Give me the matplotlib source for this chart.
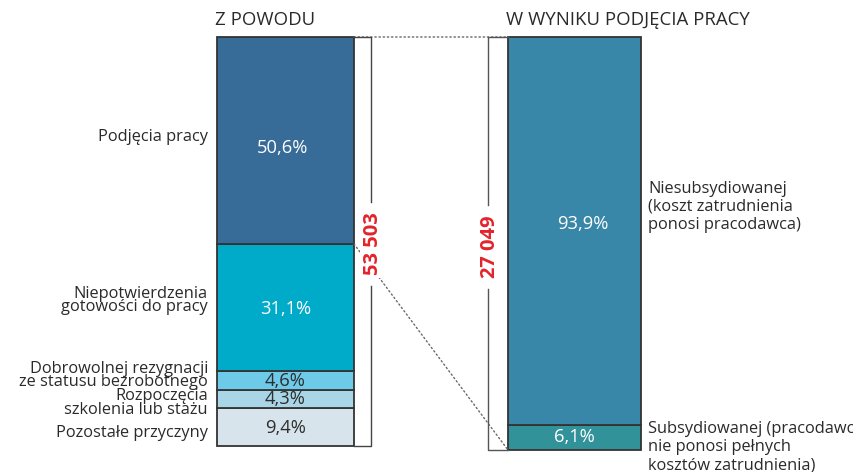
import matplotlib
matplotlib.use("Agg")
import matplotlib.pyplot as plt
from matplotlib.patches import ConnectionPatch
import numpy as np

plt.rcParams['font.family'] = ['Open Sans', 'DejaVu Sans']

# ---------------- data ----------------
left_title = "Z POWODU"
right_title = "W WYNIKU PODJĘCIA PRACY"

left_categories = ["Pozostałe przyczyny",
                   "Rozpoczęcia\nszkolenia lub stażu",
                   "Dobrowolnej rezygnacji\nze statusu bezrobotnego",
                   "Niepotwierdzenia\ngotowości do pracy",
                   "Podjęcia pracy"]
left_values = [9.4, 4.3, 4.6, 31.1, 50.6]
left_total = "53 503"

right_categories = ["Subsydiowanej (pracodawca\nnie ponosi pełnych\nkosztów zatrudnienia)",
                    "Niesubsydiowanej\n(koszt zatrudnienia\nponosi pracodawca)"]
right_values = [6.1, 93.9]
right_total = "27 049"

# ---------------- style ----------------
left_colors = ['#d7e4eb', '#a9d6e6', '#6dcae8', '#00abca', '#376b98']
left_pct_colors = ['#2e2e2e', '#2e2e2e', '#2e2e2e', 'white', 'white']
right_colors = ['#31929a', '#3887a9']
right_pct_colors = ['white', 'white']
text_color = '#2a2a2a'
edge_color = '#333333'
red = '#e4232b'

# label offsets in pixels (dx, dy; dy positive = down)
left_label_dy = [6, 4, -5, -7, -3]
left_pct_off = [(0, 1), (0, 0), (0, 0), (0, 1), (-3, 8)]
right_label_dy = [10, -24]
right_pct_off = [(0, 0), (8, -7)]

W, H = 854, 472
fig = plt.figure(figsize=(W / 100, H / 100), dpi=100)
PT = 0.72  # points per pixel


def px_axes(x0, x1, top, bot, **kw):
    return fig.add_axes([x0 / W, 1 - bot / H, (x1 - x0) / W, (bot - top) / H], **kw)


LX0, LX1, LTOP, LBOT = 217, 354, 37, 446
RX0, RX1, RTOP, RBOT = 508, 641, 37, 450

ax1 = px_axes(LX0, LX1, LTOP, LBOT)
ax2 = px_axes(RX0, RX1, RTOP, RBOT)
for ax in (ax1, ax2):
    ax.set_xlim(-0.5, 0.5)
    ax.set_ylim(0, 100)
    ax.axis('off')


def fmt(v):
    return f"{v:.1f}%".replace('.', ',')


def draw_stack(ax, values, colors, pct_colors, pct_off):
    bottoms = np.concatenate([[0], np.cumsum(values)[:-1]])
    for v, b, c, tc, (dx, dy) in zip(values, bottoms, colors, pct_colors, pct_off):
        ax.bar(0, v, width=1, bottom=b, color=c, edgecolor=edge_color,
               linewidth=1.3, clip_on=False)
        ax.annotate(fmt(v), xy=(0, b + v / 2), xytext=(dx * PT, -dy * PT),
                    textcoords='offset points', ha='center', va='center',
                    color=tc, fontsize=13.2)
    return bottoms


lb = draw_stack(ax1, left_values, left_colors, left_pct_colors, left_pct_off)
rb = draw_stack(ax2, right_values, right_colors, right_pct_colors, right_pct_off)

for cat, v, b, dy in zip(left_categories, left_values, lb, left_label_dy):
    ax1.annotate(cat, xy=(-0.5, b + v / 2), xytext=(-9 * PT, -dy * PT),
                 textcoords='offset points', ha='right', va='center',
                 color=text_color, fontsize=11.8, linespacing=0.8,
                 multialignment='right')

for cat, v, b, dy in zip(right_categories, right_values, rb, right_label_dy):
    ax2.annotate(cat, xy=(0.5, b + v / 2), xytext=(7 * PT, -dy * PT),
                 textcoords='offset points', ha='left', va='center',
                 color=text_color, fontsize=11.8, linespacing=1.2,
                 multialignment='left')

# dotted connectors
dot_style = dict(linestyle=(0, (1, 2)), color='#666666', linewidth=1.0, zorder=1)
con1 = ConnectionPatch(xyA=(0.5, 100), coordsA=ax1.transData,
                       xyB=(-0.5, 100), coordsB=ax2.transData, **dot_style)
con2 = ConnectionPatch(xyA=(0.5, lb[-1]), coordsA=ax1.transData,
                       xyB=(-0.5, 0), coordsB=ax2.transData, **dot_style)
fig.add_artist(con1)
fig.add_artist(con2)

# overlay for titles, brackets and totals
ax0 = fig.add_axes([0, 0, 1, 1], zorder=5)
ax0.set_xlim(0, W)
ax0.set_ylim(H, 0)
ax0.axis('off')

ax0.text(215, 25, left_title, ha='left', va='baseline', fontsize=13.4, color=text_color)
ax0.text(506, 25, right_title, ha='left', va='baseline', fontsize=13.4, color=text_color)


def bracket(xbar, xline, top, bot, tc, label, color):
    gap = 42
    ax0.plot([xbar, xline, xline], [top, top, tc - gap], color=color, lw=1.0)
    ax0.plot([xline, xline, xbar], [tc + gap, bot, bot], color=color, lw=1.0)
    ax0.text(xline + 2, tc, label, rotation=90, ha='center', va='center',
             color=red, fontweight='bold', fontsize=14.5,
             bbox=dict(boxstyle='square,pad=0.15', fc='white', ec='none'))


bracket(LX1, 371, LTOP, LBOT, 244, left_total, '#444444')
bracket(RX0, 488, RTOP, RBOT, 247, right_total, '#555555')

fig.savefig('out.png', dpi=100)
